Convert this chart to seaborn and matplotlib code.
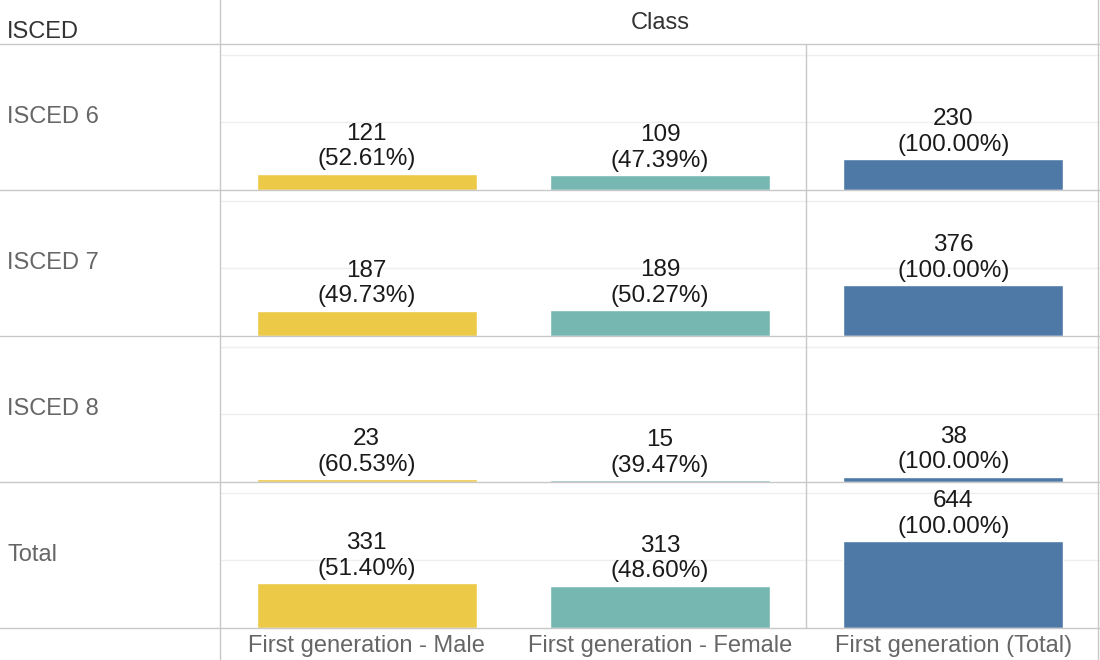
import pandas as pd
import seaborn as sns
import matplotlib.pyplot as plt
from matplotlib.lines import Line2D

# datos
levels = ['ISCED 6', 'ISCED 7', 'ISCED 8', 'Total']
classes = ['First generation - Male', 'First generation - Female', 'First generation (Total)']
male = [121, 187, 23, 331]
female = [109, 189, 15, 313]
total = [230, 376, 38, 644]
colors = ['#EDC948', '#76B7B2', '#4E79A7']

rows = []
for i, lev in enumerate(levels):
    for cls, vals in zip(classes, [male, female, total]):
        rows.append({'ISCED': lev, 'Class': cls, 'Count': vals[i],
                     'Pct': vals[i] / total[i] * 100})
df = pd.DataFrame(rows)

sns.set_theme(style='white')
plt.rcParams['font.family'] = ['Liberation Sans', 'DejaVu Sans']

W, H = 1100, 660
fig = plt.figure(figsize=(11, 6.6), dpi=100)
top0, rh = 44, 146
line_c = '#c8c8c8'
fs = 17

for i, lev in enumerate(levels):
    y0 = top0 + rh * i
    ax = fig.add_axes([220 / W, 1 - (y0 + rh) / H, 880 / W, rh / H])
    sub = df[df['ISCED'] == lev]
    sns.barplot(data=sub, x='Class', y='Count', hue='Class', order=classes,
                hue_order=classes, palette=colors, width=0.75, legend=False,
                saturation=1, ax=ax)
    ax.set_ylim(0, 1080)
    ax.set_yticks([500, 1000])
    ax.set_yticklabels([])
    ax.yaxis.grid(True, color='#efefef', lw=1)
    ax.set_axisbelow(True)
    ax.tick_params(axis='both', length=0)
    ax.set_xlabel('')
    ax.set_ylabel('')
    for s in ax.spines.values():
        s.set_visible(False)
    if i == len(levels) - 1:
        ax.set_xticks(range(len(classes)))
        ax.set_xticklabels(classes, fontsize=fs, color='#666666')
        ax.tick_params(axis='x', pad=5)
    else:
        ax.set_xticklabels([])
    for p in ax.patches:
        h = p.get_height()
        if h <= 0:
            continue
        xc = p.get_x() + p.get_width() / 2
        r = sub[sub['Count'] == h].iloc[0]
        ax.text(xc, h + 25, f"{int(r['Count'])}\n({r['Pct']:.2f}%)",
                ha='center', va='bottom', fontsize=17.5, color='#1a1a1a',
                linespacing=1.22, clip_on=False)
    fig.text(7 / W, 1 - (y0 + rh / 2) / H, lev, fontsize=fs, color='#666666',
             ha='left', va='center')

# cabeceras
fig.text(7 / W, 1 - 32 / H, 'ISCED', fontsize=fs, color='#333333', ha='left', va='center')
fig.text(660 / W, 1 - 23 / H, 'Class', fontsize=fs, color='#333333', ha='center', va='center')

# lineas de la tabla
for y in [44, 190, 336, 482, 628]:
    fig.add_artist(Line2D([0, 1], [1 - y / H] * 2, color=line_c, lw=1))
for x, ya, yb in [(220, 0, 660), (806, 44, 628), (1098, 0, 660)]:
    fig.add_artist(Line2D([x / W] * 2, [1 - ya / H, 1 - yb / H], color=line_c, lw=1))

fig.savefig('out.png', dpi=100, facecolor='white')
